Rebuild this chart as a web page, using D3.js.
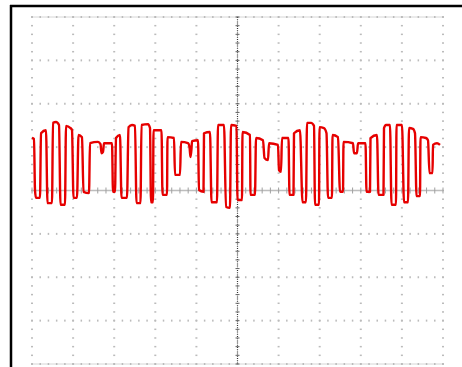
<!DOCTYPE html>
<html><head><meta charset="utf-8">
<script src="https://cdn.jsdelivr.net/npm/d3@7"></script>
<style>html,body{margin:0;padding:0;background:#fff;overflow:hidden}</style>
</head><body><svg id="c" width="462" height="367"></svg>
<script>
// Time in samples (411 samples across 10 divisions), voltage in divisions
const timeSamples = [0,2,3,4,8,9,14,15.5,20,21,24,27,28.5,33,34,38.5,40,41.5,45,46.5,50,51.5,57,58,66,68.5,69.5,71,72,80,81,83,84,88,89.5,95,96.5,100,103,104.5,108.5,109.5,116,118,119,121,121.5,129.5,130.5,135,135.5,142,143,148,149,156,157.5,158.5,159.5,160,166,167,171.5,172,178,179.5,185,186,192,194,198,199,204.5,205.5,210,210.5,218,218.5,223,224,231,232.5,236,237,246,247,249,250,256.5,257.5,261.5,262,268,270.5,274,275,279,282,283,287,287.5,292,294.5,296,300,300.5,306,308,311,311.5,321,322,325,326,333.5,334.5,338,338.5,345,346.5,351.5,352,354,358,359.5,364,364.5,370,372,376,377,381,383,384.5,388,388.5,394,396,397.5,400.5,401,405,408];
const voltage = [1.21,1.19,0.01,-0.17,-0.17,1.32,1.39,-0.29,-0.29,1.56,1.58,1.51,-0.33,-0.33,1.49,1.44,1.39,-0.17,-0.17,1.28,1.23,-0.03,-0.06,1.09,1.12,1.07,0.86,0.89,1.09,1.09,-0.03,-0.03,1.21,1.28,-0.17,-0.17,1.46,1.51,1.49,-0.29,-0.29,1.51,1.53,1.44,-0.27,-0.27,1.39,1.39,-0.10,-0.10,1.23,1.21,0.36,0.36,1.12,1.09,1.00,0.77,0.96,1.14,1.16,0.01,-0.03,1.32,1.35,-0.27,-0.27,1.51,1.51,-0.38,-0.40,1.51,1.49,-0.22,-0.22,1.35,1.28,-0.10,-0.10,1.21,1.16,0.75,0.70,1.09,1.05,0.47,0.43,1.21,1.21,-0.10,-0.10,1.32,1.39,-0.27,-0.27,1.56,1.56,1.49,-0.33,-0.33,1.46,1.44,1.32,-0.17,-0.17,1.28,1.23,-0.03,-0.03,1.12,1.09,0.86,0.86,1.09,1.09,-0.03,-0.03,1.21,1.28,-0.10,-0.10,1.44,1.51,1.51,-0.33,-0.33,1.51,1.51,-0.27,-0.27,1.44,1.42,1.32,-0.13,-0.13,1.23,1.21,1.16,0.40,0.40,1.05,1.09,1.05];
const xDivisions = d3.range(0, 11);
const yDivisions = d3.range(-4, 5);

const svg = d3.select("#c");
const xs = d3.scaleLinear().domain([0, 411]).range([32, 443]);
const xd = d3.scaleLinear().domain([0, 10]).range([32, 443]);
const y = d3.scaleLinear().domain([-4, 4]).range([364, 17]);

// frame
svg.append("line").attr("x1",10).attr("x2",462).attr("y1",6).attr("y2",6).attr("stroke","#000").attr("stroke-width",2.5);
svg.append("line").attr("x1",11).attr("x2",11).attr("y1",5).attr("y2",367).attr("stroke","#000").attr("stroke-width",2.5);

const g = svg.append("g");
[4,-4].forEach(v=>{
  g.append("line").attr("x1",xd(0)).attr("x2",xd(10)).attr("y1",y(v)).attr("y2",y(v)).attr("stroke","#d6d6d6").attr("stroke-width",1);
});
const minorX = d3.range(0, 50.001, 1).map(i=>i/5);
const minorY = d3.range(-20, 20.001, 1).map(i=>i/5);
yDivisions.forEach(v=>{
  if (v===0) return;
  g.selectAll(null).data(minorX).enter().append("rect")
    .attr("x",d=>xd(d)-0.75).attr("y",y(v)-1).attr("width",1.5).attr("height",2).attr("fill","#bbb");
});
xDivisions.forEach(d0=>{
  if (d0===5) return;
  g.selectAll(null).data(minorY).enter().append("rect")
    .attr("x",xd(d0)-1).attr("y",d=>y(d)-0.75).attr("width",2).attr("height",1.5).attr("fill","#bbb");
});
g.append("line").attr("x1",xd(0)).attr("x2",xd(10)).attr("y1",y(0)).attr("y2",y(0)).attr("stroke","#bdbdbd").attr("stroke-width",1.5);
g.selectAll(null).data(minorX).enter().append("line")
  .attr("x1",d=>xd(d)).attr("x2",d=>xd(d)).attr("y1",y(0)-3).attr("y2",y(0)+3).attr("stroke","#a0a0a0").attr("stroke-width",1);
g.append("line").attr("x1",xd(5)).attr("x2",xd(5)).attr("y1",y(4)).attr("y2",y(-4)).attr("stroke","#333").attr("stroke-width",1.2).attr("stroke-dasharray","1,1.2");
g.selectAll(null).data(minorY).enter().append("line")
  .attr("x1",xd(5)-2).attr("x2",xd(5)+2).attr("y1",d=>y(d)).attr("y2",d=>y(d)).attr("stroke","#666").attr("stroke-width",1);

const pts = timeSamples.map((t,i)=>[t, voltage[i]]);
svg.append("path").datum(pts)
  .attr("d", d3.line().x(d=>xs(d[0])).y(d=>y(d[1])).curve(d3.curveMonotoneX))
  .attr("fill","none").attr("stroke","#e60000").attr("stroke-width",2.4).attr("stroke-linejoin","round");
</script></body></html>
